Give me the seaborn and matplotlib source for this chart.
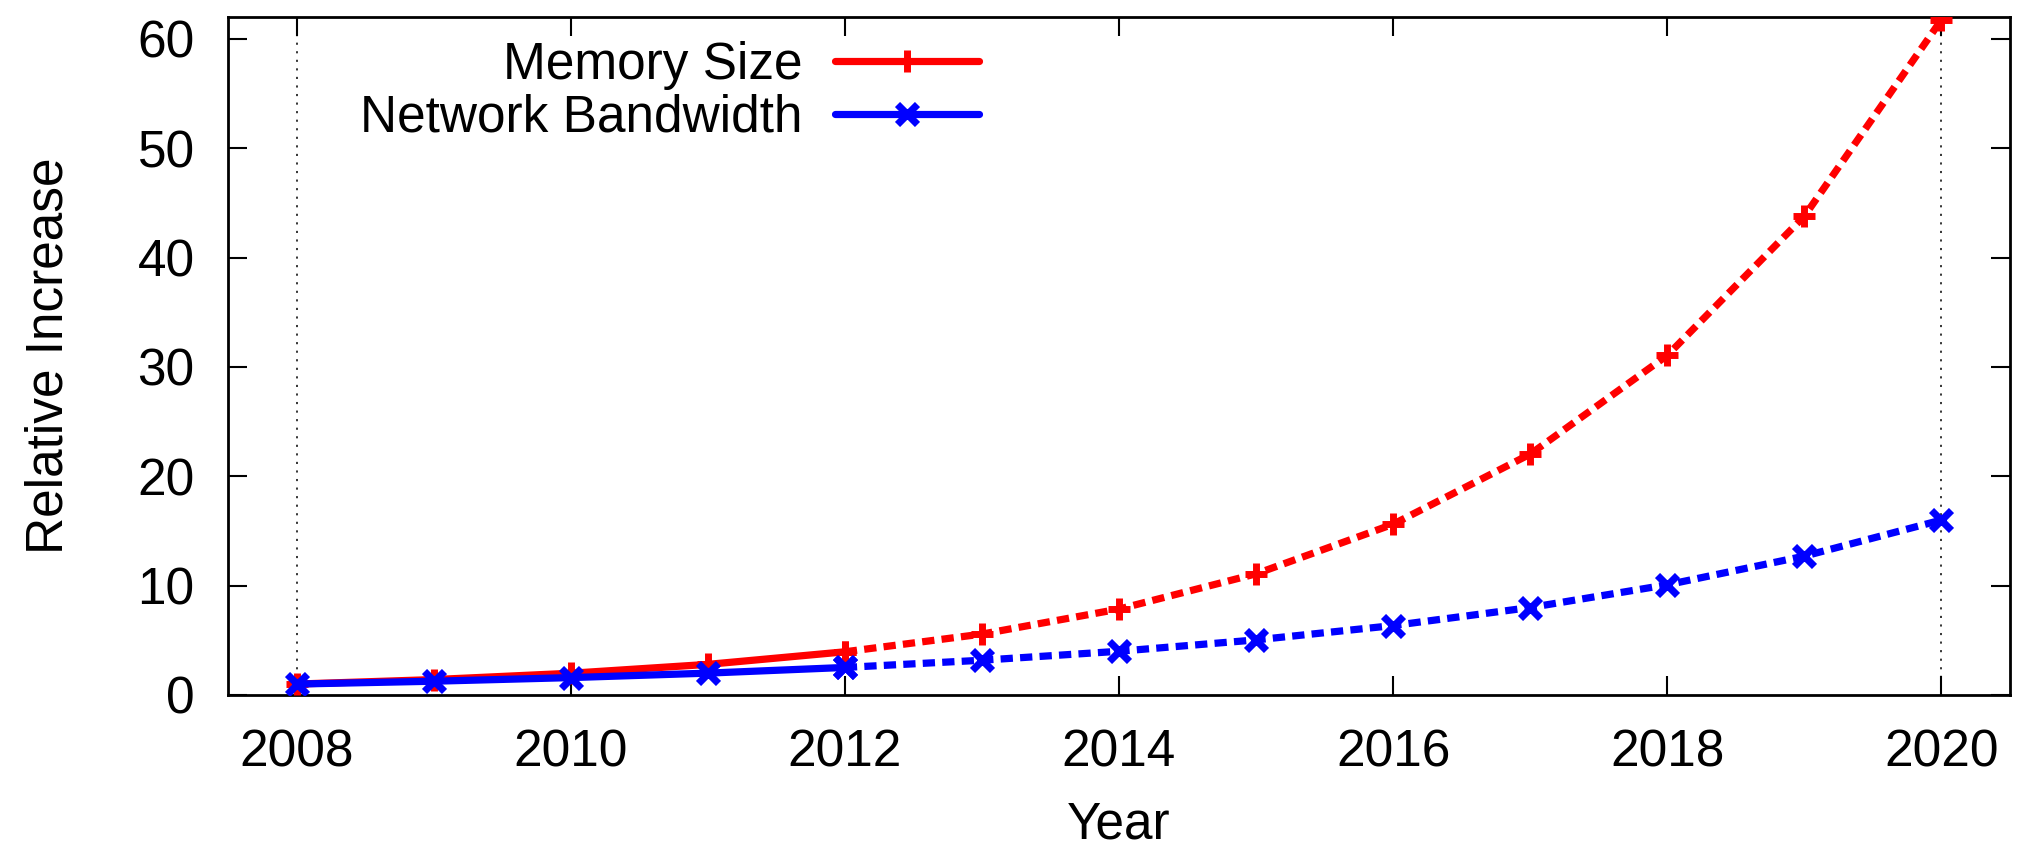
import matplotlib
matplotlib.use("Agg")
import matplotlib.pyplot as plt
import pandas as pd
import seaborn as sns

# Relative growth since 2008 (2008 = 1)
years = [2008, 2009, 2010, 2011, 2012, 2013, 2014, 2015, 2016, 2017, 2018, 2019, 2020]
memory_size = [1.00, 1.41, 1.99, 2.80, 3.95, 5.57, 7.86, 11.08, 15.62, 22.03, 31.06, 43.79, 61.75]
network_bandwidth = [1.00, 1.26, 1.59, 2.00, 2.52, 3.18, 4.00, 5.04, 6.35, 8.00, 10.08, 12.70, 16.00]
last_observed_year = 2012
span_years = [2008, 2020]
x_ticks = [2008, 2010, 2012, 2014, 2016, 2018, 2020]
y_ticks = [0, 10, 20, 30, 40, 50, 60]

sns.set_style("ticks")
plt.rcParams["font.family"] = ["Liberation Sans", "DejaVu Sans"]
plt.rcParams["text.color"] = "black"
plt.rcParams["axes.labelcolor"] = "black"
FS = 37

df = pd.DataFrame({
    "Year": years,
    "Memory Size": memory_size,
    "Network Bandwidth": network_bandwidth,
})
observed = df[df["Year"] <= last_observed_year]
projected = df[df["Year"] >= last_observed_year]

fig = plt.figure(figsize=(20.17, 8.49), dpi=100)
ax = fig.add_axes([228 / 2017, (849 - 695) / 849, 1782 / 2017, 678 / 849])

for yr in span_years:
    ax.axvline(yr, color="black", lw=1.1, linestyle=(0, (1.4, 4.2)), zorder=1)

series = [
    ("Memory Size", "#ff0000", "+", 16, 5.0),
    ("Network Bandwidth", "#0000ff", "x", 15, 5.2),
]
LW = 5.2
for name, color, mk, ms, mew in series:
    sns.lineplot(data=projected, x="Year", y=name, ax=ax, color=color,
                 linewidth=LW, linestyle=(0, (1.7, 1.0)), dash_capstyle="butt",
                 marker=mk, markersize=ms, markeredgewidth=mew,
                 markeredgecolor=color, zorder=3)
    sns.lineplot(data=observed, x="Year", y=name, ax=ax, color=color,
                 linewidth=LW, marker=mk, markersize=ms, markeredgewidth=mew,
                 markeredgecolor=color, label=name, zorder=4)

ax.set_xlim(2007.5, 2020.5)
ax.set_ylim(0, 62)
ax.set_xticks(x_ticks)
ax.set_yticks(y_ticks)
ax.set_xticklabels([str(t) for t in x_ticks])
ax.tick_params(axis="both", which="major", direction="in", length=13.7,
               width=1.5, labelsize=FS, pad=24, top=True, right=True,
               color="black", labelcolor="black")
for sp in ax.spines.values():
    sp.set_linewidth(2.0)
    sp.set_color("black")
    sp.set_visible(True)

ax.set_xlabel("Year", fontsize=FS, labelpad=17, color="black")
ax.set_ylabel("Relative Increase", fontsize=FS, labelpad=46, color="black")

handles, labels = ax.get_legend_handles_labels()
leg = ax.legend(handles, labels, loc="upper right", bbox_to_anchor=(0.4214, 0.965),
                frameon=False, fontsize=FS, markerfirst=False, numpoints=1,
                handlelength=2.8, handletextpad=0.63, labelspacing=0.08,
                borderpad=0, borderaxespad=0)
for t in leg.get_texts():
    t.set_color("black")

fig.savefig("out.png", dpi=100)
